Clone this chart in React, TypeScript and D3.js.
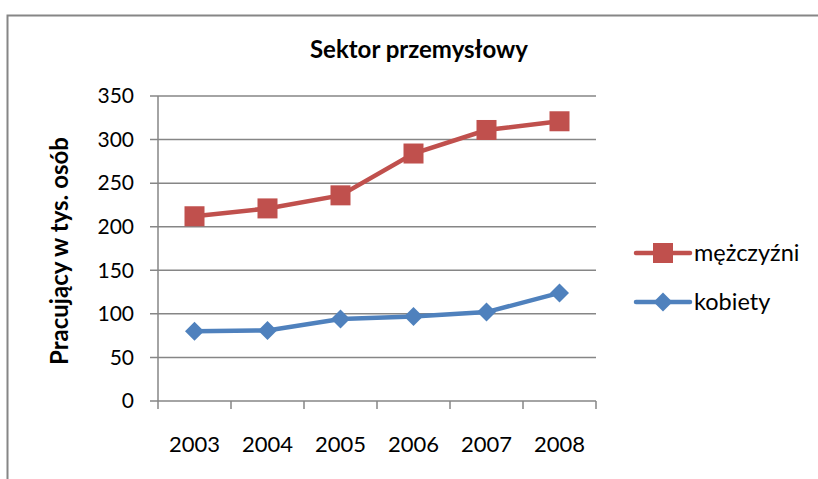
import * as d3 from 'd3'

const YEARS = ['2003', '2004', '2005', '2006', '2007', '2008']
const MEN = [212, 221, 236, 284, 311, 321]
const WOMEN = [80, 81, 94, 97, 102, 124]
const Y_TICKS = [0, 50, 100, 150, 200, 250, 300, 350]

const RED = '#C0504D'
const BLUE = '#4F81BD'
const GRID = '#868686'
const FONT = 'Lato, "Open Sans", sans-serif'

const W = 818
const H = 479
const PLOT = { left: 158, right: 596, top: 96, bottom: 401 }

export default function App() {
  const x = d3.scaleBand().domain(YEARS).range([PLOT.left, PLOT.right])
  const y = d3.scaleLinear().domain([0, 350]).range([PLOT.bottom, PLOT.top])
  const cx = (yr: string) => (x(yr) ?? 0) + x.bandwidth() / 2

  const line = d3.line<number>()
    .x((_, i) => cx(YEARS[i]))
    .y(d => y(d))

  const diamond = (px: number, py: number, r: number) =>
    `M${px},${py - r}L${px + r},${py}L${px},${py + r}L${px - r},${py}Z`

  return (
    <svg width={W} height={H} style={{ position: 'absolute', left: 0, top: 0 }} fontFamily={FONT}>
      <rect x={0} y={0} width={W} height={H} fill="white" />
      {/* chart border */}
      <rect x={7.5} y={15.5} width={W + 20} height={H + 20} fill="none" stroke={GRID} strokeWidth={2} />

      <text x={419} y={50} dy="0.35em" textAnchor="middle" fontSize={24} fontWeight="bold" fill="#000">
        Sektor przemysłowy
      </text>

      {/* gridlines + y labels */}
      {Y_TICKS.map(t => (
        <g key={t}>
          <line x1={PLOT.left - 8} x2={PLOT.right} y1={y(t)} y2={y(t)} stroke={GRID} strokeWidth={1.5} />
          <text x={134} y={y(t)} dy="0.35em" textAnchor="end" fontSize={21} fill="#000">{t}</text>
        </g>
      ))}
      <line x1={PLOT.left} x2={PLOT.left} y1={PLOT.top} y2={PLOT.bottom} stroke={GRID} strokeWidth={1.5} />

      {/* x ticks */}
      {[...YEARS.map(yr => x(yr) ?? 0), PLOT.right].map((px, i) => (
        <line key={i} x1={px} x2={px} y1={PLOT.bottom} y2={PLOT.bottom + 8} stroke={GRID} strokeWidth={1.5} />
      ))}
      {YEARS.map(yr => (
        <text key={yr} x={cx(yr)} y={444} dy="0.35em" textAnchor="middle" fontSize={22} fill="#000">{yr}</text>
      ))}

      <text
        transform={`translate(60, 251) rotate(-90)`}
        textAnchor="middle"
        dy="0.35em"
        fontSize={24}
        fontWeight="bold"
        fill="#000"
      >
        Pracujący w tys. osób
      </text>

      {/* series */}
      <path d={line(MEN) ?? ''} fill="none" stroke={RED} strokeWidth={4.5} />
      {MEN.map((v, i) => (
        <rect key={i} x={cx(YEARS[i]) - 10} y={y(v) - 10} width={20} height={20} fill={RED} />
      ))}
      <path d={line(WOMEN) ?? ''} fill="none" stroke={BLUE} strokeWidth={4.5} />
      {WOMEN.map((v, i) => (
        <path key={i} d={diamond(cx(YEARS[i]), y(v), 9.5)} fill={BLUE} />
      ))}

      {/* legend */}
      <g>
        <line x1={636} x2={690} y1={253} y2={253} stroke={RED} strokeWidth={4.5} strokeLinecap="round" />
        <rect x={653} y={243} width={20} height={20} fill={RED} />
        <text x={694} y={253} dy="0.35em" fontSize={23.5} fill="#000">mężczyźni</text>
        <line x1={636} x2={690} y1={302} y2={302} stroke={BLUE} strokeWidth={4.5} strokeLinecap="round" />
        <path d={diamond(663, 302, 9.5)} fill={BLUE} />
        <text x={694} y={302} dy="0.35em" fontSize={23.5} fill="#000">kobiety</text>
      </g>
    </svg>
  )
}
